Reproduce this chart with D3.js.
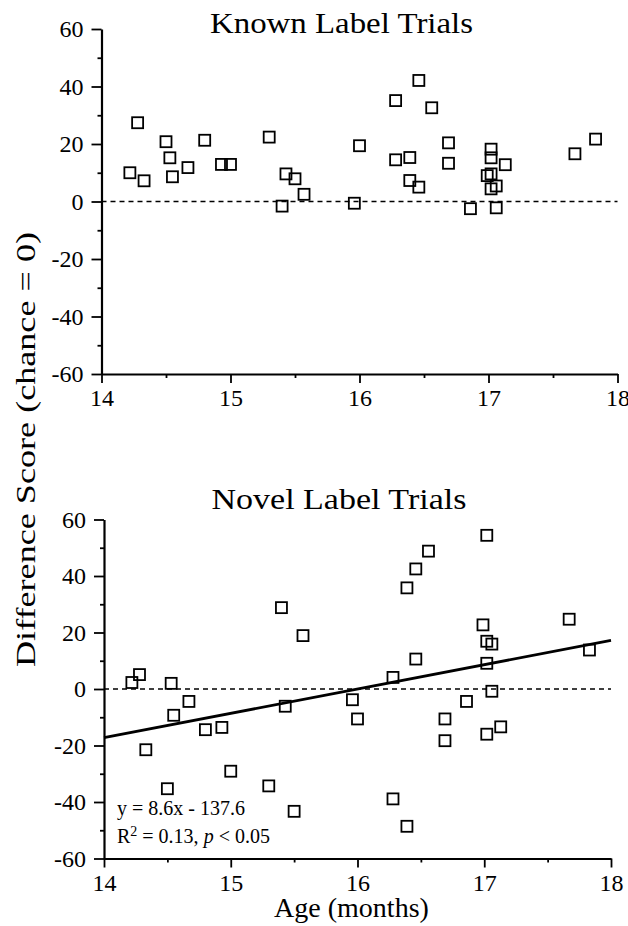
<!DOCTYPE html>
<html lang="en">
<head>
<meta charset="utf-8">
<title>Difference scores by age</title>
<script src="https://cdn.jsdelivr.net/npm/d3@7"></script>
<style>
  body { margin: 0; background: #fff; }
</style>
</head>
<body>
<script>
// ages in months, same children in both panels
var ages = [14.22, 14.28, 14.33, 14.50, 14.53, 14.55, 14.67, 14.80, 14.93, 15.00,
            15.30, 15.40, 15.43, 15.50, 15.57, 15.96, 16.00, 16.28, 16.28, 16.39,
            16.39, 16.46, 16.46, 16.56, 16.69, 16.69, 16.86, 16.99, 17.02, 17.02,
            17.02, 17.02, 17.06, 17.06, 17.13, 17.67, 17.83];
var knownScores = [10.0, 27.4, 7.2, 20.8, 15.2, 8.6, 11.8, 21.3, 12.9, 12.9,
                   22.4, -1.6, 9.6, 7.9, 2.5, -0.6, 19.4, 35.1, 14.5, 15.3,
                   7.3, 42.1, 5.0, 32.6, 20.4, 13.3, -2.5, 9.0, 18.2, 15.2,
                   9.6, 4.4, 5.4, -2.2, 12.8, 16.6, 21.7];
var novelScores = [2.3, 5.1, -21.5, -35.3, 2.0, -9.3, -4.4, -14.4, -13.6, -29.1,
                   -34.3, 28.8, -6.1, -43.3, 18.9, -3.8, -10.6, 4.1, -38.9, 35.8,
                   -48.6, 42.5, 10.6, 48.8, -10.6, -18.3, -4.4, 22.7, 54.4, 16.9,
                   9.1, -16.0, 15.9, -0.8, -13.4, 24.7, 13.8];
// novel-label fit: y = 8.6x - 137.6
var fitSlope = 8.6, fitIntercept = -137.6;
var xTicks = [14, 15, 16, 17, 18];
var xMinor = [14.5, 15.5, 16.5, 17.5];
var yTicks = [-60, -40, -20, 0, 20, 40, 60];
var yMinor = [-50, -30, -10, 10, 30, 50];
var titles = ["Known Label Trials", "Novel Label Trials"];

var serif = "'Liberation Serif', 'Times New Roman', Times, serif";

var svg = d3.select("body").append("svg")
  .attr("width", 628).attr("height", 926)
  .attr("font-family", serif);

var panels = [
  { title: titles[0], scores: knownScores, xr: [101.5, 617.5], yr: [374, 29], titleY: 33, titleX: 341.5, titleLen: 263, fit: false },
  { title: titles[1], scores: novelScores, xr: [104, 611], yr: [858.5, 519.5], titleY: 509, titleX: 339, titleLen: 255, fit: true }
];

function plain(d) { return String(d); }

panels.forEach(function(p) {
  var x = d3.scaleLinear().domain([14, 18]).range(p.xr);
  var y = d3.scaleLinear().domain([-60, 60]).range(p.yr);
  var g = svg.append("g");

  // chance line
  g.append("line")
    .attr("x1", x(14)).attr("x2", x(18))
    .attr("y1", y(0)).attr("y2", y(0))
    .attr("stroke", "#000").attr("stroke-width", 1.6)
    .attr("stroke-dasharray", "5,4");

  if (p.fit) {
    g.append("line")
      .attr("x1", x(14)).attr("y1", y(fitSlope * 14 + fitIntercept))
      .attr("x2", x(18)).attr("y2", y(fitSlope * 18 + fitIntercept))
      .attr("stroke", "#000").attr("stroke-width", 2.8);
  }

  // y axis + minor ticks
  var ya = g.append("g").attr("transform", "translate(" + x(14) + ",0)")
    .call(d3.axisLeft(y).tickValues(yTicks).tickFormat(plain)
      .tickSizeInner(10).tickSizeOuter(0).tickPadding(8));
  g.append("g").attr("transform", "translate(" + x(14) + ",0)")
    .call(d3.axisLeft(y).tickValues(yMinor).tickSize(4).tickFormat(""))
    .select(".domain").remove();

  // x axis + minor ticks
  var xa = g.append("g").attr("transform", "translate(0," + y(-60) + ")")
    .call(d3.axisBottom(x).tickValues(xTicks).tickFormat(plain)
      .tickSizeInner(9).tickSizeOuter(0));
  g.append("g").attr("transform", "translate(0," + y(-60) + ")")
    .call(d3.axisBottom(x).tickValues(xMinor).tickSize(4).tickFormat(""))
    .select(".domain").remove();

  g.selectAll("g").attr("font-family", serif).attr("font-size", null);
  g.selectAll(".domain").attr("stroke-width", 2.2);
  g.selectAll(".tick line").attr("stroke-width", 1.8);
  g.selectAll(".tick text").attr("fill", "#000")
    .style("font-family", serif).style("font-size", "24px");
  xa.selectAll("text").attr("dy", null).attr("y", 32);

  // data squares
  g.selectAll("rect.pt").data(ages).enter().append("rect")
    .attr("class", "pt")
    .attr("x", function(d) { return x(d) - 5.5; })
    .attr("y", function(d, i) { return y(p.scores[i]) - 5.5; })
    .attr("width", 11).attr("height", 11)
    .attr("fill", "none").attr("stroke", "#000").attr("stroke-width", 1.8);

  g.append("text")
    .attr("x", p.titleX).attr("y", p.titleY)
    .attr("text-anchor", "middle")
    .attr("textLength", p.titleLen).attr("lengthAdjust", "spacingAndGlyphs")
    .style("font-family", serif).style("font-size", "29px")
    .text(p.title);
});

// shared axis titles
svg.append("text")
  .attr("transform", "translate(35,449.5) rotate(-90)")
  .attr("text-anchor", "middle")
  .attr("textLength", 435).attr("lengthAdjust", "spacingAndGlyphs")
  .style("font-family", serif).style("font-size", "28px")
  .text("Difference Score (chance = 0)");

svg.append("text")
  .attr("x", 351.5).attr("y", 917)
  .attr("text-anchor", "middle")
  .style("font-family", serif).style("font-size", "28px")
  .text("Age (months)");

// regression annotation
svg.append("text")
  .attr("x", 117).attr("y", 815)
  .style("font-family", serif).style("font-size", "20px")
  .text("y = " + fitSlope + "x - " + Math.abs(fitIntercept));

var r2 = svg.append("text")
  .attr("x", 117).attr("y", 843)
  .style("font-family", serif).style("font-size", "20px");
r2.append("tspan").text("R");
r2.append("tspan").attr("dy", -7).style("font-size", "14px").text("2");
r2.append("tspan").attr("dy", 7).text(" = 0.13, ");
r2.append("tspan").style("font-style", "italic").text("p");
r2.append("tspan").text(" < 0.05");
</script>
</body>
</html>
